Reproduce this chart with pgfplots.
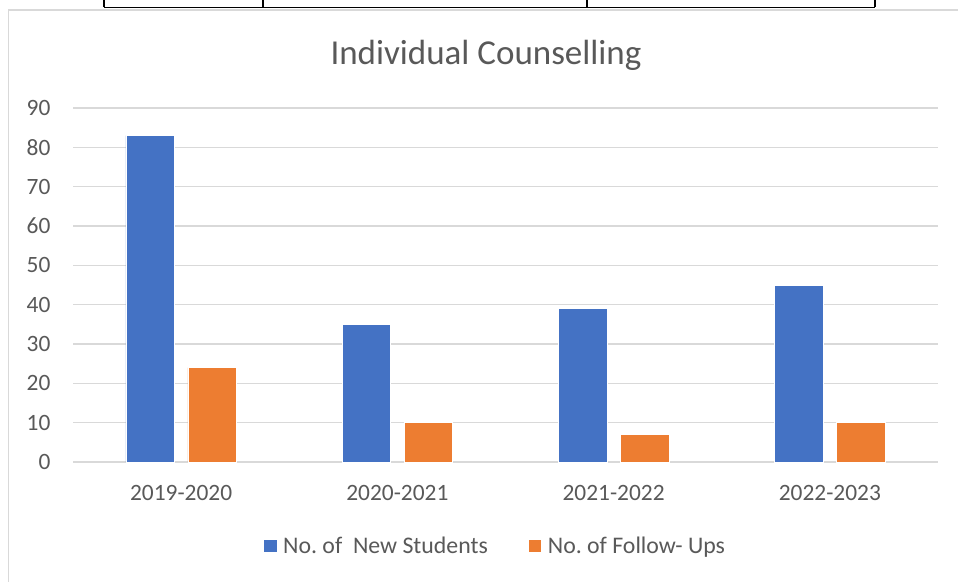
\documentclass[border=0pt]{standalone}
\usepackage{fontspec}
\setmainfont{Carlito}
\usepackage{pgfplots}
\pgfplotsset{compat=1.18}
\definecolor{cblue}{HTML}{4472C4}
\definecolor{corange}{HTML}{ED7D31}
\definecolor{ctext}{HTML}{595959}
\definecolor{cgrid}{HTML}{D9D9D9}
\begin{document}
\begin{tikzpicture}[x=1pt,y=1pt]
\useasboundingbox (0,0) rectangle (958,581);
\clip (0,0) rectangle (958,581);
\fill[white] (0,0) rectangle (958,581);
% chart frame
\draw[cgrid, line width=1.5pt] (8.5,-10) -- (8.5,571) -- (980,571);
% table fragment above
\draw[black, line width=1.6pt] (104,573.5) -- (875,573.5);
\foreach \xx in {104,263,587,875} {\draw[black, line width=1.6pt] (\xx,573.5) -- (\xx,590);}
% title
\node[ctext, font=\fontsize{35}{40}\selectfont] at (486,526) {Individual Counselling};
\begin{axis}[
  scale only axis,
  width=865pt, height=354pt,
  at={(73pt,119pt)}, anchor=south west,
  ybar,
  bar width=48.5pt,
  xmin=-0.5, xmax=3.5,
  ymin=0, ymax=90,
  xtick={0,1,2,3},
  xticklabels={2019-2020,2020-2021,2021-2022,2022-2023},
  ytick={0,10,...,90},
  ymajorgrids,
  grid style={cgrid, line width=1.3pt},
  axis line style={draw=none},
  major tick length=0pt,
  /pgf/number format/assume math mode=true,
  ticklabel style={ctext, font=\fontsize{23.4}{28}\selectfont},
  yticklabel style={xshift=-19pt},
  xticklabel style={yshift=-20pt},
  legend style={draw=none, fill=none, at={(0.488,-0.237)}, anchor=center,
    legend columns=2, font=\fontsize{23.8}{28}\selectfont, text=ctext,
    /tikz/every odd column/.append style={column sep=4pt},
    /tikz/every even column/.append style={column sep=38pt}},
  legend image code/.code={\fill[#1] (0pt,-6.7pt) rectangle (13.4pt,6.7pt);},
  legend cell align=left,
]
\addplot[draw=white, line width=0.6pt, fill=cblue, bar shift=-31pt] coordinates {(0,83) (1,35) (2,39) (3,45)};
\addlegendentry{No.\ of\ \ New Students}
\addplot[draw=white, line width=0.6pt, fill=corange, bar shift=31pt] coordinates {(0,24) (1,10) (2,7) (3,10)};
\addlegendentry{No.\ of Follow- Ups}
\end{axis}
\end{tikzpicture}
\end{document}
